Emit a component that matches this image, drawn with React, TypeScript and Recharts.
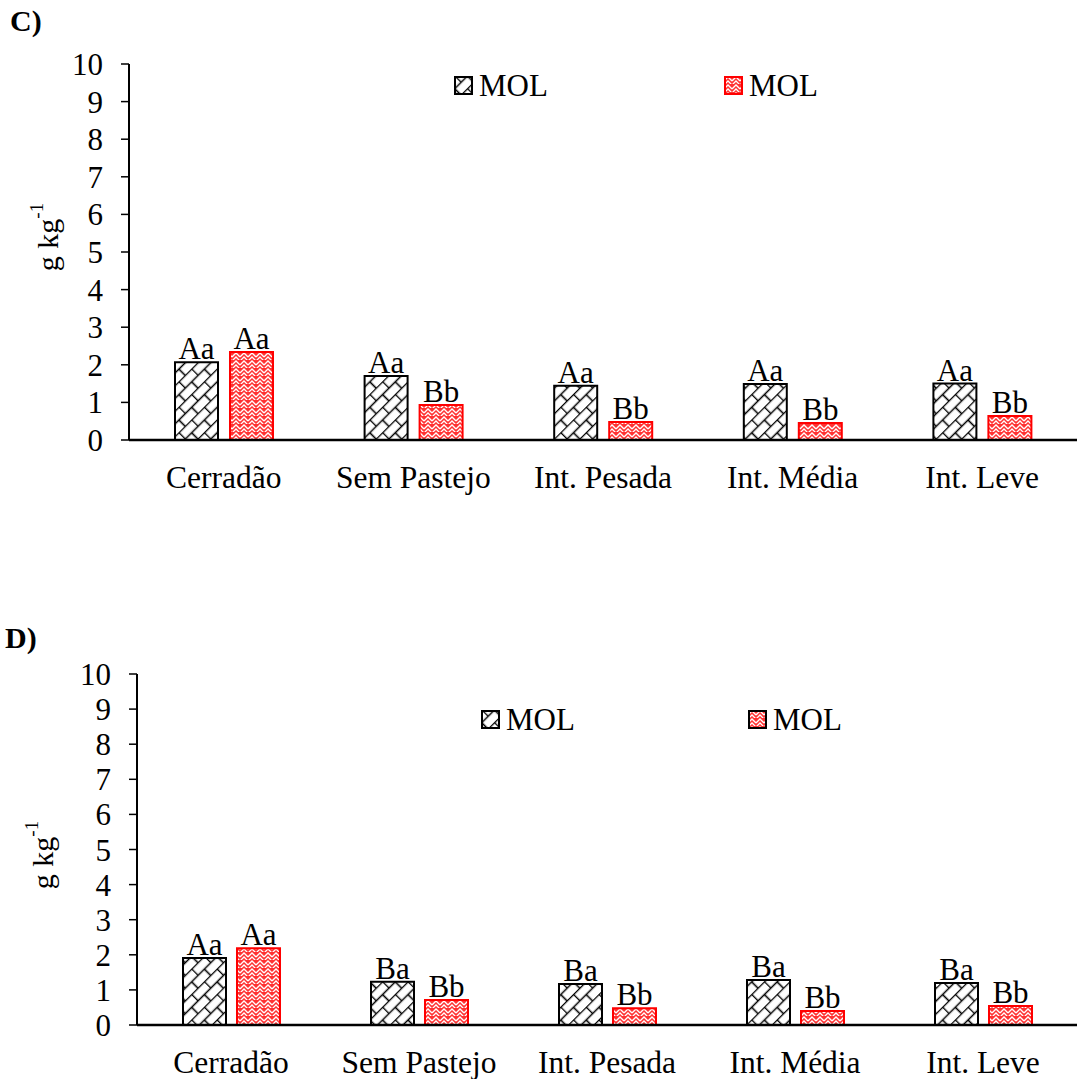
import React from 'react';
import { BarChart, Bar, XAxis, YAxis, LabelList, Legend, Label } from 'recharts';

// --- shared categories ---
const categories = ['Cerradão', 'Sem Pastejo', 'Int. Pesada', 'Int. Média', 'Int. Leve'];
const yTicks = [0, 1, 2, 3, 4, 5, 6, 7, 8, 9, 10];

// --- Panel C ---
const cBlack = [2.07, 1.7, 1.44, 1.49, 1.5];
const cRed = [2.34, 0.93, 0.48, 0.45, 0.64];
const cBlackLabels = ['Aa', 'Aa', 'Aa', 'Aa', 'Aa'];
const cRedLabels = ['Aa', 'Bb', 'Bb', 'Bb', 'Bb'];

// --- Panel D ---
const dBlack = [1.91, 1.23, 1.17, 1.28, 1.2];
const dRed = [2.19, 0.71, 0.48, 0.4, 0.54];
const dBlackLabels = ['Aa', 'Ba', 'Ba', 'Ba', 'Ba'];
const dRedLabels = ['Aa', 'Bb', 'Bb', 'Bb', 'Bb'];

const FONT = '"Liberation Serif", "Times New Roman", serif';

const toRows = (a: number[], b: number[], la: string[], lb: string[]) =>
  categories.map((name, i) => ({ name, a: a[i], b: b[i], la: la[i], lb: lb[i] }));

const PatternDefs = () => (
  <svg width={0} height={0} style={{ position: 'absolute', left: 0, top: 0 }}>
    <defs>
      <pattern id="brick" patternUnits="userSpaceOnUse" width={18} height={18} patternTransform="rotate(-45)">
        <rect width={18} height={18} fill="#fff" />
        <path d="M0 0.5H18M0 9.5H18M0.5 0.5V9.5M9.5 9.5V18.5" stroke="#000" strokeWidth={1.6} fill="none" />
      </pattern>
      <pattern id="weave" patternUnits="userSpaceOnUse" width={8} height={8}>
        <rect width={8} height={8} fill="#f33" />
        <path d="M0 5L4 1L8 5M0 9L4 5L8 9" stroke="#fff" strokeWidth={1.3} fill="none" />
      </pattern>
    </defs>
  </svg>
);

const LegendBox = ({ gap, redBorder }: { gap: number; redBorder: string }) => (
  <div style={{ display: 'flex', fontFamily: FONT, fontSize: 31, color: '#000', lineHeight: '31px' }}>
    <div style={{ display: 'flex', alignItems: 'center', width: gap }}>
      <svg width={19} height={19} style={{ marginRight: 6 }}>
        <rect x={1} y={1} width={17} height={17} fill="url(#brick)" stroke="#000" strokeWidth={2} />
      </svg>
      MOL
    </div>
    <div style={{ display: 'flex', alignItems: 'center' }}>
      <svg width={19} height={19} style={{ marginRight: 6 }}>
        <rect x={1} y={1} width={17} height={17} fill="url(#weave)" stroke={redBorder} strokeWidth={2} />
      </svg>
      MOL
    </div>
  </div>
);

type PanelProps = {
  data: ReturnType<typeof toRows>;
  top: number;
  height: number;
  marginTop: number;
  marginLeft: number;
  xAxisHeight: number;
  xTickMargin: number;
  barGap: number;
  legendTop: number;
  legendLeft: number;
  legendGap: number;
  legendRedBorder: string;
  yLabelX: number;
  yLabelY: number;
  panel: string;
  panelLeft: number;
  panelTop: number;
};

const Panel = (p: PanelProps) => (
  <div style={{ position: 'absolute', left: 0, top: p.top, width: 1082, height: p.height }}>
    <div style={{ position: 'absolute', left: p.panelLeft, top: p.panelTop, fontFamily: FONT, fontWeight: 'bold', fontSize: 30 }}>
      {p.panel}
    </div>
    <BarChart
      width={1082}
      height={p.height}
      data={p.data}
      margin={{ top: p.marginTop, right: 5, left: p.marginLeft, bottom: 0 }}
      barSize={43}
      barGap={p.barGap}
    >
      <XAxis
        dataKey="name"
        height={p.xAxisHeight}
        tickLine={false}
        axisLine={{ stroke: '#000', strokeWidth: 2.5 }}
        tickMargin={p.xTickMargin}
        tick={{ fill: '#000', fontSize: 31.5, fontFamily: FONT }}
        interval={0}
      />
      <YAxis
        width={100}
        domain={[0, 10]}
        ticks={yTicks}
        interval={0}
        axisLine={{ stroke: '#000', strokeWidth: 2 }}
        tickLine={{ stroke: '#000', strokeWidth: 1.5 }}
        tickSize={8}
        tickMargin={18}
        tick={{ fill: '#000', fontSize: 31, fontFamily: FONT }}
      >
        <Label
          content={() => (
            <text
              x={p.yLabelX}
              y={p.yLabelY}
              transform={`rotate(-90, ${p.yLabelX}, ${p.yLabelY})`}
              textAnchor="middle"
              dominantBaseline="central"
              fontFamily={FONT}
              fontSize={30}
              fill="#000"
            >
              g kg
              <tspan dy={-11} fontSize={19}>-1</tspan>
            </text>
          )}
        />
      </YAxis>
      <Legend
        layout="horizontal"
        verticalAlign="middle"
        align="center"
        wrapperStyle={{ top: p.legendTop, left: p.legendLeft, width: 500 }}
        content={() => <LegendBox gap={p.legendGap} redBorder={p.legendRedBorder} />}
      />
      <Bar dataKey="a" name="MOL" fill="url(#brick)" stroke="#000" strokeWidth={2} isAnimationActive={false}>
        <LabelList dataKey="la" position="top" offset={3} fill="#000" fontSize={31} fontFamily={FONT} />
      </Bar>
      <Bar dataKey="b" name="MOL" fill="url(#weave)" stroke="#f00" strokeWidth={2} isAnimationActive={false}>
        <LabelList dataKey="lb" position="top" offset={3} fill="#000" fontSize={31} fontFamily={FONT} />
      </Bar>
    </BarChart>
  </div>
);

export default function App() {
  return (
    <div style={{ position: 'absolute', left: 0, top: 0, width: 1082, height: 1079, background: '#fff' }}>
      <PatternDefs />
      <Panel
        data={toRows(cBlack, cRed, cBlackLabels, cRedLabels)}
        top={0}
        height={520}
        marginTop={64}
        marginLeft={29}
        xAxisHeight={80}
        xTickMargin={20}
        barGap={12}
        legendTop={70}
        legendLeft={454}
        legendGap={270}
        legendRedBorder="#f00"
        yLabelX={47}
        yLabelY={237}
        panel="C)"
        panelLeft={10}
        panelTop={4}
      />
      <Panel
        data={toRows(dBlack, dRed, dBlackLabels, dRedLabels)}
        top={600}
        height={479}
        marginTop={74}
        marginLeft={37}
        xAxisHeight={54}
        xTickMargin={20}
        barGap={11}
        legendTop={104}
        legendLeft={481}
        legendGap={267}
        legendRedBorder="#000"
        yLabelX={42}
        yLabelY={255}
        panel="D)"
        panelLeft={5}
        panelTop={21}
      />
    </div>
  );
}
